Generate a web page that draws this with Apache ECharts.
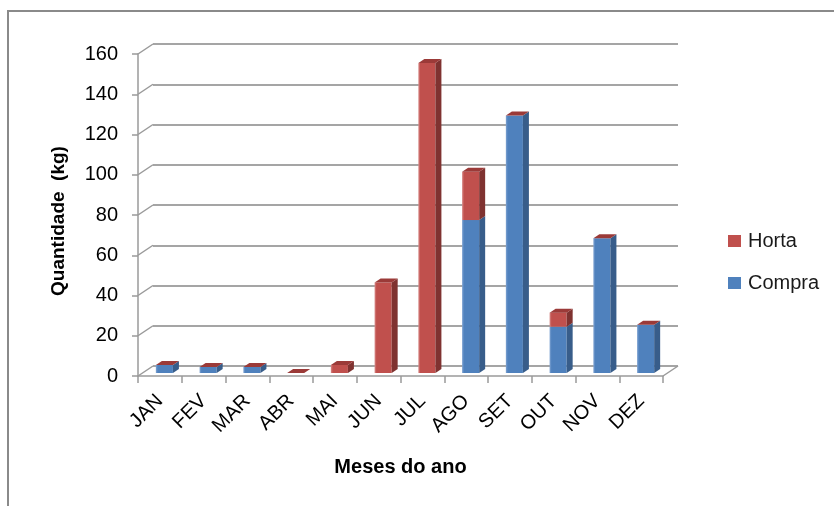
<!DOCTYPE html>
<html>
<head>
<meta charset="utf-8">
<script src="https://cdn.jsdelivr.net/npm/echarts@6/dist/echarts.min.js"></script>
<style>
  html, body { margin: 0; padding: 0; background: #fff; }
  #chart { width: 834px; height: 506px; }
</style>
</head>
<body>
<div id="chart"></div>
<script>
// Monthly quantities (kg)
const months = ['JAN', 'FEV', 'MAR', 'ABR', 'MAI', 'JUN', 'JUL', 'AGO', 'SET', 'OUT', 'NOV', 'DEZ'];
const compra = [4, 3, 3, 0, 0, 0, 0, 76, 128, 23, 67, 24];
const horta = [0, 0, 0, 0, 4, 45, 154, 24, 0, 7, 0, 0];
const yTicks = [0, 20, 40, 60, 80, 100, 120, 140, 160];

// Pseudo-3D geometry: offset from the front plane to the back wall
const DEPTH = [15, -10];
const BAR_FRONT = 0.3;   // bar front face sits 30% into the depth
const BAR_THICK = 0.4;   // bar depth as a fraction of the full depth

const FONT = '"Liberation Sans", Arial, sans-serif';

const palette = {
  Compra: { front: '#4F81BD', light: '#7fa3d2', side: '#385D8A', top: '#4572a7' },
  Horta: { front: '#C0504D', light: '#d88a88', side: '#7f3230', top: '#9b3a38' }
};

function barRenderer(name, isTop) {
  const c = palette[name];
  return function (params, api) {
    const i = api.value(0);
    const v = api.value(1);
    const base = api.value(2);
    const p0 = api.coord([i, base]);
    const p1 = api.coord([i, base + v]);
    const band = api.size([1, 0])[0];
    const w = band * 0.39;
    const ox = DEPTH[0] * BAR_FRONT, oy = DEPTH[1] * BAR_FRONT;
    const dx = DEPTH[0] * BAR_THICK, dy = DEPTH[1] * BAR_THICK;
    const cx = p0[0] + ox;
    const L = cx - w / 2, R = cx + w / 2;
    const yb = p0[1] + oy, yt = p1[1] + oy;
    const children = [];
    if (yb - yt > 0.1) {
      children.push({
        type: 'rect',
        shape: { x: L, y: yt, width: w, height: yb - yt },
        style: {
          fill: new echarts.graphic.LinearGradient(0, 0, 1, 0, [
            { offset: 0, color: c.light },
            { offset: 0.12, color: c.front },
            { offset: 1, color: c.front }
          ])
        }
      });
      children.push({
        type: 'polygon',
        shape: { points: [[R, yt], [R + dx, yt + dy], [R + dx, yb + dy], [R, yb]] },
        style: { fill: c.side }
      });
    }
    if (isTop) {
      children.push({
        type: 'polygon',
        shape: { points: [[L, yt], [R, yt], [R + dx, yt + dy], [L + dx, yt + dy]] },
        style: { fill: c.top }
      });
    }
    return { type: 'group', children: children };
  };
}

// Edges joining the front axis to the back wall
function frameRenderer(params, api) {
  const v = api.value(0);
  const p = api.coord([0, v]);
  const children = [{
    type: 'line',
    shape: { x1: p[0], y1: p[1], x2: p[0] + DEPTH[0], y2: p[1] + DEPTH[1] },
    style: { stroke: '#9a9a9a', lineWidth: 1.5 }
  }];
  if (v === 0) {
    const q = api.coord([months.length, 0]);
    children.push({
      type: 'line',
      shape: { x1: q[0], y1: q[1], x2: q[0] + DEPTH[0], y2: q[1] + DEPTH[1] },
      style: { stroke: '#9a9a9a', lineWidth: 1.5 }
    });
  }
  return { type: 'group', children: children };
}

const chart = echarts.init(document.getElementById('chart'), null, { renderer: 'canvas' });

const frontGrid = { left: 138, right: 171, top: 54, bottom: 130 };
const backGrid = {
  left: frontGrid.left + DEPTH[0],
  right: frontGrid.right - DEPTH[0],
  top: frontGrid.top + DEPTH[1],
  bottom: frontGrid.bottom - DEPTH[1]
};

chart.setOption({
  animation: false,
  backgroundColor: '#ffffff',
  textStyle: { fontFamily: FONT },
  graphic: [{
    type: 'rect',
    shape: { x: 8, y: 11, width: 900, height: 600 },
    style: { fill: 'none', stroke: '#8a8a8a', lineWidth: 2 },
    z: 0
  }],
  grid: [
    Object.assign({ containLabel: false }, backGrid),
    Object.assign({ containLabel: false }, frontGrid)
  ],
  legend: {
    orient: 'vertical',
    left: 728,
    top: 231,
    padding: 0,
    itemWidth: 13,
    itemHeight: 12,
    itemGap: 22,
    icon: 'rect',
    data: ['Horta', 'Compra'],
    textStyle: { fontFamily: FONT, fontSize: 20, color: '#1a1a1a', padding: [0, 0, 0, 2] }
  },
  xAxis: [
    { gridIndex: 0, type: 'category', data: months, show: false },
    {
      gridIndex: 1,
      type: 'category',
      data: months,
      axisLine: { show: true, lineStyle: { color: '#9a9a9a', width: 1.5 } },
      axisTick: { show: true, length: 7, lineStyle: { color: '#9a9a9a', width: 1.5 } },
      axisLabel: { rotate: 45, margin: 22, fontFamily: FONT, fontSize: 20, color: '#000' },
      splitLine: { show: false },
      name: 'Meses do ano',
      nameLocation: 'middle',
      nameGap: 81,
      nameTextStyle: { fontFamily: FONT, fontSize: 20, fontWeight: 'bold', color: '#000' }
    },
    { gridIndex: 1, type: 'value', min: 0, max: months.length, show: false, position: 'top' }
  ],
  yAxis: [
    {
      gridIndex: 0, type: 'value', min: 0, max: 160, interval: 20,
      axisLine: { show: false }, axisTick: { show: false }, axisLabel: { show: false },
      splitLine: { show: true, lineStyle: { color: '#878787', width: 1.5 } }
    },
    {
      gridIndex: 1, type: 'value', min: 0, max: 160, interval: 20,
      axisLine: { show: true, lineStyle: { color: '#9a9a9a', width: 1.5 } },
      axisTick: { show: true, length: 6, lineStyle: { color: '#9a9a9a', width: 1.5 } },
      axisLabel: {
        margin: 20, fontFamily: FONT, fontSize: 20, color: '#000',
        formatter: function (v) { return yTicks.indexOf(v) >= 0 ? String(v) : ''; }
      },
      splitLine: { show: false },
      name: 'Quantidade  (kg)',
      nameLocation: 'middle',
      nameRotate: 90,
      nameGap: 70,
      nameTextStyle: {
        fontFamily: FONT, fontSize: 19, fontWeight: 'bold', color: '#000',
        padding: [0, 12, 0, 0]
      }
    }
  ],
  series: [
    {
      type: 'custom',
      name: 'frame',
      xAxisIndex: 2,
      yAxisIndex: 1,
      silent: true,
      clip: false,
      z: 1,
      renderItem: frameRenderer,
      data: yTicks.map(function (v) { return [v]; }),
      encode: { y: 0 }
    },
    {
      type: 'custom',
      name: 'Compra',
      xAxisIndex: 1,
      yAxisIndex: 1,
      clip: false,
      z: 3,
      itemStyle: { color: palette.Compra.front },
      renderItem: barRenderer('Compra', false),
      data: compra.map(function (v, i) { return [i, v, 0]; }),
      encode: { x: 0, y: 1 }
    },
    {
      type: 'custom',
      name: 'Horta',
      xAxisIndex: 1,
      yAxisIndex: 1,
      clip: false,
      z: 4,
      itemStyle: { color: palette.Horta.front },
      renderItem: barRenderer('Horta', true),
      data: horta.map(function (v, i) { return [i, v, compra[i]]; }),
      encode: { x: 0, y: 1 }
    }
  ]
});
</script>
</body>
</html>
